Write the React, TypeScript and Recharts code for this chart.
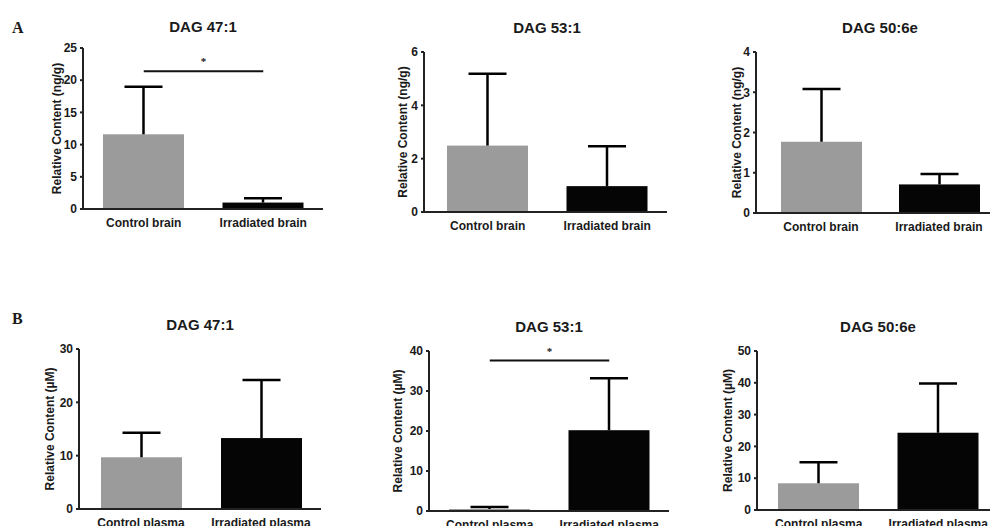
import { BarChart, Bar, XAxis, YAxis, Cell, ReferenceLine } from "recharts"

const brainGroups = ["Control brain", "Irradiated brain"]
const plasmaGroups = ["Control plasma", "Irradiated plasma"]

const brain471Mean = [11.6, 1.0]
const brain471Err = [19.0, 1.65]
const brain531Mean = [2.49, 0.97]
const brain531Err = [5.18, 2.47]
const brain506Mean = [1.77, 0.71]
const brain506Err = [3.08, 0.97]

const plasma471Mean = [9.7, 13.3]
const plasma471Err = [14.3, 24.2]
const plasma531Mean = [0.5, 20.2]
const plasma531Err = [1.0, 33.2]
const plasma506Mean = [8.4, 24.3]
const plasma506Err = [15.0, 39.8]

const ticksA1 = [0, 5, 10, 15, 20, 25]
const ticksA2 = [0, 2, 4, 6]
const ticksA3 = [0, 1, 2, 3, 4]
const ticksB1 = [0, 10, 20, 30]
const ticksB2 = [0, 10, 20, 30, 40]
const ticksB3 = [0, 10, 20, 30, 40, 50]

const barColors = ["#9b9b9b", "#050505"]
const font = "'Liberation Sans', Arial, sans-serif"
const ink = "#1a1a1a"

const ErrShape = (props: any) => {
  const { x, y, width, height, fill, payload } = props
  const perUnit = payload.mean ? height / payload.mean : 0
  const cx = x + width / 2
  const yErr = y + height - payload.err * perUnit
  return (
    <g>
      <rect x={x} y={y} width={width} height={height} fill={fill} />
      <line x1={cx} x2={cx} y1={y} y2={yErr} stroke="#000" strokeWidth={2.5} />
      <line x1={cx - 19} x2={cx + 19} y1={yErr} y2={yErr} stroke="#000" strokeWidth={2.5} />
    </g>
  )
}

type PanelProps = {
  title: string
  groups: string[]
  means: number[]
  errs: number[]
  ticks: number[]
  yLabel: string
  axisX: number
  top: number
  bottom: number
  padL: number
  right: number
  titleX: number
  titleY: number
  labelDist: number
  sig?: number
}

const Panel = (p: PanelProps) => {
  const rows = p.groups.map((g, i) => ({ name: g, mean: p.means[i], err: p.errs[i] }))
  const w = p.right - p.axisX + 62
  const h = p.bottom - p.top + 40
  return (
    <>
      <div
        style={{
          position: "absolute",
          left: p.titleX - 100,
          top: p.titleY - 9,
          width: 200,
          lineHeight: "18px",
          textAlign: "center",
          fontFamily: font,
          fontWeight: "bold",
          fontSize: 15,
          color: ink,
        }}
      >
        {p.title}
      </div>
      <div style={{ position: "absolute", left: p.axisX - 60, top: p.top - 10 }}>
        <BarChart width={w} height={h} data={rows} margin={{ top: 10, right: 2, left: 20, bottom: 0 }}>
          <XAxis
            dataKey="name"
            tickLine={false}
            tickSize={6}
            tickMargin={3}
            height={30}
            padding={{ left: p.padL, right: 0 }}
            stroke="#222"
            strokeWidth={2}
            tick={{ fontSize: 12, fontWeight: "bold", fill: ink, fontFamily: font }}
          />
          <YAxis
            width={40}
            domain={[0, p.ticks[p.ticks.length - 1]]}
            ticks={p.ticks}
            tickSize={3}
            tickMargin={3}
            stroke="#222"
            strokeWidth={2}
            tick={{ fontSize: 12, fontWeight: "bold", fill: ink, fontFamily: font }}
            label={{
              value: p.yLabel,
              angle: -90,
              position: "insideLeft",
              offset: 40 - p.labelDist,
              style: { textAnchor: "middle", fontSize: 12, fontWeight: "bold", fill: ink, fontFamily: font },
            }}
          />
          <Bar dataKey="mean" barSize={81} shape={ErrShape} isAnimationActive={false}>
            {rows.map((r, i) => (
              <Cell key={r.name} fill={barColors[i]} />
            ))}
          </Bar>
          {p.sig !== undefined && (
            <ReferenceLine
              segment={[
                { x: p.groups[0], y: p.sig },
                { x: p.groups[1], y: p.sig },
              ]}
              stroke="#111"
              strokeWidth={2}
              label={{ value: "*", position: "top", offset: 6, fontSize: 11, fontWeight: "bold", fill: ink }}
            />
          )}
        </BarChart>
      </div>
    </>
  )
}

const letterStyle = (top: number) => ({
  position: "absolute" as const,
  left: 12,
  top,
  fontFamily: "'Liberation Serif', 'Times New Roman', serif",
  fontWeight: "bold" as const,
  fontSize: 16,
  lineHeight: "18px",
  color: ink,
})

export default function App() {
  return (
    <div
      style={{
        position: "absolute",
        left: 0,
        top: 0,
        width: 990,
        height: 526,
        overflow: "hidden",
        background: "#fff",
      }}
    >
      <div style={letterStyle(19)}>A</div>
      <div style={letterStyle(310)}>B</div>

      <Panel title="DAG 47:1" groups={brainGroups} means={brain471Mean} errs={brain471Err} ticks={ticksA1}
        yLabel="Relative Content (ng/g)" axisX={83} top={48} bottom={209} padL={1} right={323}
        titleX={203} titleY={27} labelDist={26} sig={21.4} />
      <Panel title="DAG 53:1" groups={brainGroups} means={brain531Mean} errs={brain531Err} ticks={ticksA2}
        yLabel="Relative Content (ng/g)" axisX={424} top={52} bottom={212} padL={4} right={667}
        titleX={547} titleY={28} labelDist={21} />
      <Panel title="DAG 50:6e" groups={brainGroups} means={brain506Mean} errs={brain506Err} ticks={ticksA3}
        yLabel="Relative Content (ng/g)" axisX={756} top={52} bottom={213} padL={6} right={998}
        titleX={880} titleY={28} labelDist={19} />

      <Panel title="DAG 47:1" groups={plasmaGroups} means={plasma471Mean} errs={plasma471Err} ticks={ticksB1}
        yLabel="Relative Content (µM)" axisX={79} top={349} bottom={509} padL={2} right={321}
        titleX={200} titleY={325} labelDist={29} />
      <Panel title="DAG 53:1" groups={plasmaGroups} means={plasma531Mean} errs={plasma531Err} ticks={ticksB2}
        yLabel="Relative Content (µM)" axisX={429} top={351} bottom={511} padL={1} right={669}
        titleX={549} titleY={327} labelDist={31} sig={37.6} />
      <Panel title="DAG 50:6e" groups={plasmaGroups} means={plasma506Mean} errs={plasma506Err} ticks={ticksB3}
        yLabel="Relative Content (µM)" axisX={757} top={351} bottom={510} padL={2} right={998}
        titleX={878} titleY={327} labelDist={29} />
    </div>
  )
}
